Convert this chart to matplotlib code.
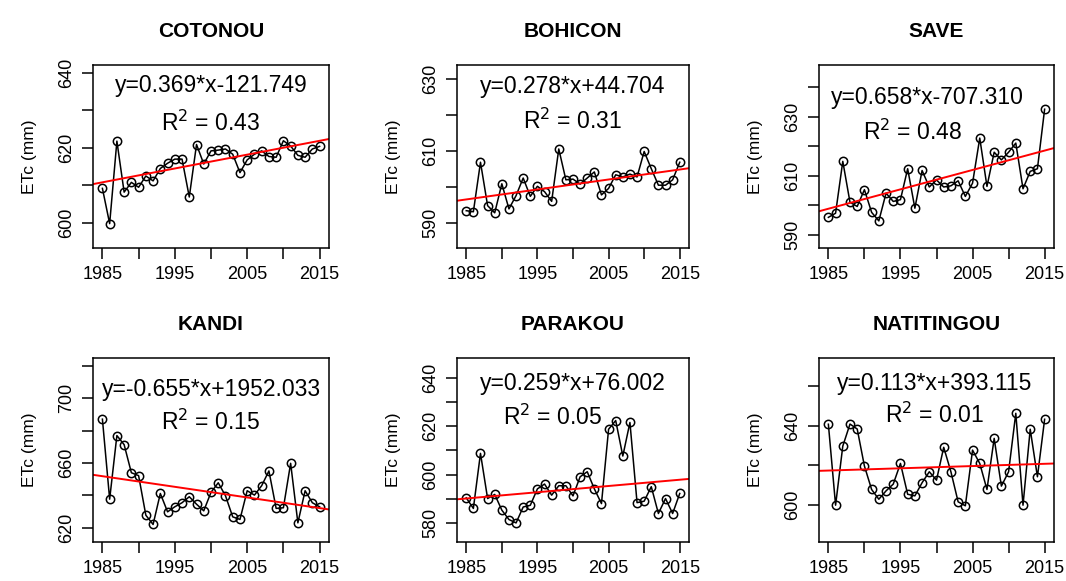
import numpy as np
import matplotlib
matplotlib.use('Agg')
import matplotlib.pyplot as plt

plt.rcParams['font.family'] = ['Liberation Sans', 'DejaVu Sans']

years = np.arange(1985, 2016)

stations = ['COTONOU', 'BOHICON', 'SAVE', 'KANDI', 'PARAKOU', 'NATITINGOU']

cotonou = [609.1, 599.7, 621.7, 608.1, 610.7, 609.4, 612.4, 611.1, 614.4, 615.8,
           616.9, 616.9, 606.8, 620.8, 615.6, 619.1, 619.3, 619.6, 618.2, 613.3,
           616.7, 618.2, 619.1, 617.6, 617.4, 621.8, 620.4, 617.9, 617.4, 619.6, 620.3]
bohicon = [593.4, 593.1, 606.9, 594.8, 592.8, 600.9, 593.9, 597.6, 602.5, 597.4,
           600.2, 598.7, 596.0, 610.6, 602.0, 602.2, 600.8, 602.5, 604.2, 597.8,
           599.6, 603.4, 602.8, 603.6, 602.8, 609.9, 605.1, 600.5, 600.5, 602.0, 606.9]
save = [595.9, 597.3, 614.9, 601.0, 599.6, 605.3, 597.6, 594.7, 604.1, 601.3,
        601.9, 612.4, 599.0, 611.8, 606.2, 608.6, 606.2, 606.6, 608.3, 603.0,
        607.5, 622.8, 606.4, 618.0, 615.4, 618.0, 621.1, 605.6, 611.5, 612.4, 632.6]
kandi = [687.0, 637.7, 676.9, 671.3, 654.0, 652.2, 627.8, 622.1, 641.2, 629.9,
         633.0, 635.5, 639.2, 634.6, 630.5, 641.9, 647.8, 639.8, 626.8, 625.2,
         642.9, 640.2, 646.0, 655.1, 632.0, 632.4, 659.8, 623.1, 642.9, 635.5, 633.0]
parakou = [590.4, 586.0, 608.8, 590.1, 591.8, 585.3, 581.4, 580.0, 586.6, 587.3,
           594.1, 596.1, 591.5, 595.4, 595.4, 591.2, 599.1, 601.2, 594.1, 588.0,
           618.8, 622.4, 607.7, 621.6, 588.4, 589.0, 595.0, 583.9, 590.1, 583.9, 592.2]
natitingou = [640.7, 600.0, 629.7, 640.8, 638.3, 619.7, 607.9, 603.0, 607.2, 610.6,
              621.0, 605.5, 604.7, 611.3, 616.8, 612.6, 629.1, 616.8, 601.7, 599.7,
              627.7, 621.0, 607.9, 633.6, 609.6, 616.8, 646.2, 600.0, 638.2, 614.3, 643.2]

series = [cotonou, bohicon, save, kandi, parakou, natitingou]

# regression coefficients as printed on the chart
slopes = [0.369, 0.278, 0.658, -0.655, 0.259, 0.113]
intercepts = [-121.749, 44.704, -707.310, 1952.033, 76.002, 393.115]
r2 = ['0.43', '0.31', '0.48', '0.15', '0.05', '0.01']

# y axis: ticks, labelled ticks, limits
yticks = [[600, 610, 620, 630, 640], [590, 600, 610, 620, 630], [590, 600, 610, 620, 630, 640],
          [620, 640, 660, 680, 700, 720], [580, 590, 600, 610, 620, 630, 640], [600, 620, 640, 660]]
ylabeled = [[600, 620, 640], [590, 610, 630], [590, 610, 630],
            [620, 660, 700], [580, 600, 620, 640], [600, 640]]
ylims = [(593.2, 642.0), (583.0, 634.0), (585.5, 647.6),
         (611.3, 724.7), (572.1, 648.3), (581.5, 674.0)]

xticks = [1985, 1990, 1995, 2000, 2005, 2010, 2015]
xlabeled = [1985, 1995, 2005, 2015]

lefts = [93, 457, 819]
widths = [236, 232, 235]
tops = [65, 358]
heights = [183, 184]

# text positions in axes fraction (eq x, eq y, r2 x, r2 y)
txt_pos = [(0.5, 0.89, 0.5, 0.68), (0.5, 0.88, 0.5, 0.69), (0.46, 0.825, 0.40, 0.63),
           (0.5, 0.83, 0.5, 0.65), (0.5, 0.86, 0.41, 0.68), (0.49, 0.86, 0.49, 0.69)]

W, H = 1066, 581
fig = plt.figure(figsize=(W / 100, H / 100), dpi=100)

for i in range(6):
    r, c = divmod(i, 3)
    ax = fig.add_axes([lefts[c] / W, (H - tops[r] - heights[r]) / H, widths[c] / W, heights[r] / H])
    ax.plot(years, series[i], color='black', lw=1.1, marker='o', ms=6,
            mfc='none', mec='black', mew=1.1)
    xx = np.array([1983.7, 2016.3])
    ax.plot(xx, slopes[i] * xx + intercepts[i], color='red', lw=1.4)
    ax.set_xlim(1983.7, 2016.3)
    ax.set_ylim(*ylims[i])
    ax.set_xticks(xticks)
    ax.set_xticklabels([str(t) if t in xlabeled else '' for t in xticks])
    ax.set_yticks(yticks[i])
    ax.set_yticklabels([str(t) if t in ylabeled[i] else '' for t in yticks[i]],
                       rotation=90, va='center')
    ax.tick_params(direction='out', length=8, width=1.1, labelsize=13, pad=5)
    for s in ax.spines.values():
        s.set_linewidth(1.1)
    ax.set_title(stations[i], fontsize=15, fontweight='bold', pad=20)
    ax.set_ylabel('ETc (mm)', fontsize=12.5, labelpad=15)
    p = txt_pos[i]
    sign = '+' if intercepts[i] >= 0 else '-'
    eq = 'y=%.3f*x%s%.3f' % (slopes[i], sign, abs(intercepts[i]))
    ax.text(p[0], p[1], eq, transform=ax.transAxes, ha='center', va='center', fontsize=16.5)
    ax.text(p[2], p[3], r'R$^2$ = ' + r2[i], transform=ax.transAxes, ha='center',
            va='center', fontsize=16.5)

fig.savefig('out.png', dpi=100)
